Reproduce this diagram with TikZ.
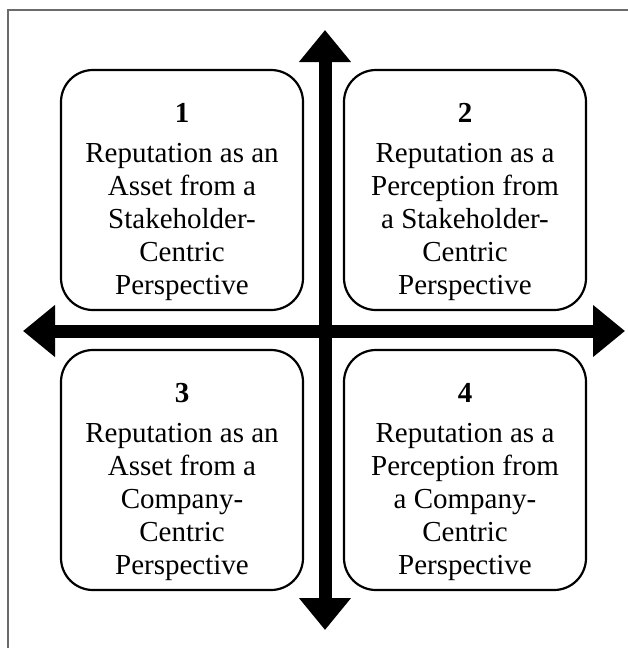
\documentclass[tikz,border=0pt]{standalone}
\usepackage{fontspec}
\setmainfont{Liberation Serif}
\usetikzlibrary{arrows.meta, positioning}

\begin{document}
\begin{tikzpicture}[x=1pt, y=-1pt,
    quad/.style={draw, line width=2.2pt, rounded corners=32pt, minimum width=242pt, minimum height=240pt},
    quadtext/.style={align=center, font=\fontsize{29}{33}\selectfont, yshift=-12pt},
    axis/.style={line width=13pt, {Triangle[length=32pt, width=50pt]}-{Triangle[length=32pt, width=50pt]}},
    frame/.style={draw=black!58, line width=1.5pt}
]
    \useasboundingbox (0,0) rectangle (628,648);

    % Outer frame (left and top edges only)
    \draw[frame] (8,648) -- (8,10) -- (628,10);

    % Four quadrants
    \node[quad] (q1) at (182,190) {};
    \node[quad] (q2) at (465,190) {};
    \node[quad] (q3) at (182,470) {};
    \node[quad] (q4) at (465,470) {};

    \node[quadtext] (t1) at (q1) {\textbf{1}\\[7pt] Reputation as an\\ Asset from a\\ Stakeholder-\\ Centric\\ Perspective};
    \node[quadtext] (t2) at (q2) {\textbf{2}\\[7pt] Reputation as a\\ Perception from\\ a Stakeholder-\\ Centric\\ Perspective};
    \node[quadtext] (t3) at (q3) {\textbf{3}\\[7pt] Reputation as an\\ Asset from a\\ Company-\\ Centric\\ Perspective};
    \node[quadtext] (t4) at (q4) {\textbf{4}\\[7pt] Reputation as a\\ Perception from\\ a Company-\\ Centric\\ Perspective};

    % Axis end points
    \coordinate (west) at (23,331);
    \coordinate (east) at (625,331);
    \coordinate (north) at (325,30);
    \coordinate (south) at (325,630);

    % Axes
    \draw[axis] (west) -- (east);
    \draw[axis] (north) -- (south);
\end{tikzpicture}
\end{document}
